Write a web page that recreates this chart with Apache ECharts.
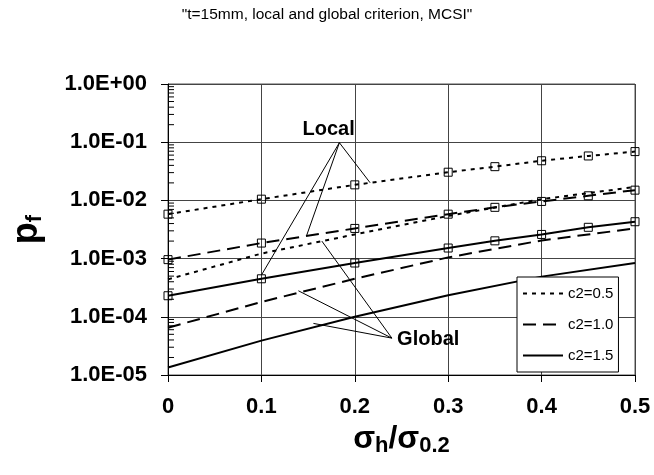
<!DOCTYPE html>
<html>
<head>
<meta charset="utf-8">
<script src="https://cdn.jsdelivr.net/npm/echarts@6/dist/echarts.min.js"></script>
<style>
  html, body { margin: 0; padding: 0; background: #fff; }
  #chart { width: 654px; height: 475px; }
</style>
</head>
<body>
<div id="chart"></div>
<script>
const FONT = '"Liberation Sans", Arial, Helvetica, sans-serif';

// Axis tick labels
const xTickLabels = ['0', '0.1', '0.2', '0.3', '0.4', '0.5'];
const yTickLabels = ['1.0E-05', '1.0E-04', '1.0E-03', '1.0E-02', '1.0E-01', '1.0E+00'];

// Legend entries (one per c2 value)
const legendNames = ['c2=0.5', 'c2=1.0', 'c2=1.5'];

// Local criterion (points marked with squares)
const localX   = [0, 0.1, 0.2, 0.3, 0.35, 0.4, 0.45, 0.5];
const localC05 = [5.8e-3, 1.05e-2, 1.85e-2, 3.05e-2, 3.8e-2, 4.8e-2, 5.8e-2, 6.9e-2];
const localC10 = [9.6e-4, 1.85e-3, 3.3e-3, 5.8e-3, 7.6e-3, 9.6e-3, 1.2e-2, 1.5e-2];
const localC15 = [2.3e-4, 4.5e-4, 8.4e-4, 1.52e-3, 2.02e-3, 2.6e-3, 3.45e-3, 4.3e-3];

// Global criterion (plain lines)
const globalX   = [0, 0.1, 0.2, 0.3, 0.4, 0.5];
const globalC05 = [4.4e-4, 1.22e-3, 2.6e-3, 5.4e-3, 1.05e-2, 1.7e-2];
const globalC10 = [6.5e-5, 1.8e-4, 4.5e-4, 1.05e-3, 2.05e-3, 3.3e-3];
const globalC15 = [1.35e-5, 3.9e-5, 1.0e-4, 2.35e-4, 4.9e-4, 8.4e-4];

// Callout text anchors and leader lines (data coordinates)
const calloutTexts = ['Local', 'Global'];
const calloutAnchors = [[0.172, 0.165], [0.2786, 4.0e-5]];
const localLeaders = [
  [[0.1835, 0.098], [0.2164, 0.0201]],
  [[0.1835, 0.098], [0.1486, 2.54e-3]],
  [[0.1835, 0.098], [0.1, 5.2e-4]]
];
const globalLeaders = [
  [[0.2397, 4.3e-5], [0.1396, 2.8e-4]],
  [[0.2397, 4.3e-5], [0.1557, 7.7e-5]],
  [[0.2397, 4.3e-5], [0.1647, 2.0e-3]]
];

// Minor log ticks on the value axis
const minorMantissas = [2, 3, 4, 5, 6, 7, 8, 9];
const minorDecades = [-5, -4, -3, -2, -1];

const pairs = (xs, ys) => xs.map((x, i) => [x, ys[i]]);
const dashes = [[4, 5], [13, 7], 'solid'];

const chart = echarts.init(document.getElementById('chart'), null, { renderer: 'canvas' });

const globalSets = [globalC05, globalC10, globalC15];
const localSets = [localC05, localC10, localC15];

const series = [];
globalSets.forEach((ys, i) => {
  series.push({
    name: legendNames[i],
    type: 'line',
    data: pairs(globalX, ys),
    symbol: 'none',
    lineStyle: { color: '#000', width: 2, type: dashes[i] },
    itemStyle: { color: '#000' },
    silent: true,
    z: 3
  });
});
localSets.forEach((ys, i) => {
  series.push({
    name: legendNames[i],
    type: 'line',
    data: pairs(localX, ys),
    symbol: 'rect',
    symbolSize: 8,
    showAllSymbol: true,
    lineStyle: { color: '#000', width: 2, type: dashes[i] },
    itemStyle: { color: 'rgba(0,0,0,0)', borderColor: '#000', borderWidth: 1 },
    silent: true,
    z: 3
  });
});

series.push({
  type: 'lines',
  coordinateSystem: 'cartesian2d',
  polyline: false,
  silent: true,
  z: 4,
  lineStyle: { color: '#000', width: 1, opacity: 1 },
  data: localLeaders.concat(globalLeaders).map(seg => ({ coords: seg }))
});

const minorTickData = [];
minorDecades.forEach(d => minorMantissas.forEach(m => minorTickData.push([0, m * Math.pow(10, d)])));
series.push({
  type: 'custom',
  silent: true,
  z: 5,
  data: minorTickData,
  renderItem: (params, api) => {
    const p = api.coord([api.value(0), api.value(1)]);
    return {
      type: 'line',
      shape: { x1: p[0], y1: p[1], x2: p[0] + 6, y2: p[1] },
      style: { stroke: '#000', lineWidth: 1 }
    };
  }
});

chart.setOption({
  animation: false,
  backgroundColor: '#fff',
  title: {
    text: '"t=15mm, local and global criterion, MCSI"',
    left: 'center',
    top: 2,
    textStyle: { fontFamily: FONT, fontSize: 15.5, fontWeight: 'normal', color: '#000' }
  },
  grid: {
    left: 168, right: 19, top: 84, bottom: 100,
    show: true, borderColor: '#555', borderWidth: 1, backgroundColor: 'transparent'
  },
  legend: {
    data: legendNames,
    selectedMode: false,
    orient: 'vertical',
    left: 517, top: 277,
    padding: [9, 5, 9, 5],
    itemGap: 16,
    itemWidth: 40,
    itemHeight: 14,
    backgroundColor: '#fff',
    borderColor: '#000',
    borderWidth: 1,
    itemStyle: { opacity: 0 },
    lineStyle: { width: 2 },
    textStyle: { fontFamily: FONT, fontSize: 15, color: '#000' }
  },
  xAxis: {
    type: 'value',
    min: 0, max: 0.5, interval: 0.1,
    axisLine: { show: true, onZero: false, lineStyle: { color: '#000', width: 1 } },
    axisTick: { show: true, inside: false, length: 7, lineStyle: { color: '#000' } },
    splitLine: { show: true, lineStyle: { color: '#444', width: 1 } },
    axisLabel: {
      margin: 21,
      fontFamily: FONT, fontSize: 22, fontWeight: 'bold', color: '#000',
      formatter: v => xTickLabels[Math.round(v * 10)]
    },
    name: '{a|σ}{b|h}{a|/σ}{b|0.2}',
    nameLocation: 'middle',
    nameGap: 31,
    nameTextStyle: {
      fontFamily: FONT, color: '#000',
      rich: {
        a: { fontFamily: FONT, fontSize: 32, fontWeight: 'bold', color: '#000' },
        b: { fontFamily: FONT, fontSize: 22, fontWeight: 'bold', color: '#000', padding: [15, 0, 0, 0] }
      }
    }
  },
  yAxis: {
    type: 'log',
    logBase: 10,
    min: 1e-5, max: 1,
    axisLine: { show: true, onZero: false, lineStyle: { color: '#000', width: 1 } },
    axisTick: { show: true, inside: false, length: 7, lineStyle: { color: '#000' } },
    splitLine: { show: true, lineStyle: { color: '#444', width: 1 } },
    axisLabel: {
      margin: 21,
      fontFamily: FONT, fontSize: 22, fontWeight: 'bold', color: '#000',
      formatter: v => yTickLabels[Math.round(Math.log10(v)) + 5]
    },
    name: '{p|p}{f|f}',
    nameLocation: 'middle',
    nameGap: 122,
    nameRotate: 90,
    nameTextStyle: {
      fontFamily: FONT, color: '#000',
      rich: {
        p: { fontFamily: FONT, fontSize: 36, fontWeight: 'bold', color: '#000' },
        f: { fontFamily: FONT, fontSize: 22, fontWeight: 'bold', color: '#000', padding: [16, 0, 0, 0] }
      }
    }
  },
  series: series
});

// Callout captions placed at their data anchors
chart.setOption({
  graphic: calloutTexts.map((t, i) => {
    const p = chart.convertToPixel({ gridIndex: 0 }, calloutAnchors[i]);
    return {
      type: 'text',
      x: p[0], y: p[1],
      z: 10,
      silent: true,
      style: {
        text: t,
        fill: '#000',
        font: 'bold 20px ' + FONT,
        align: 'center',
        verticalAlign: 'middle'
      }
    };
  })
});
</script>
</body>
</html>
